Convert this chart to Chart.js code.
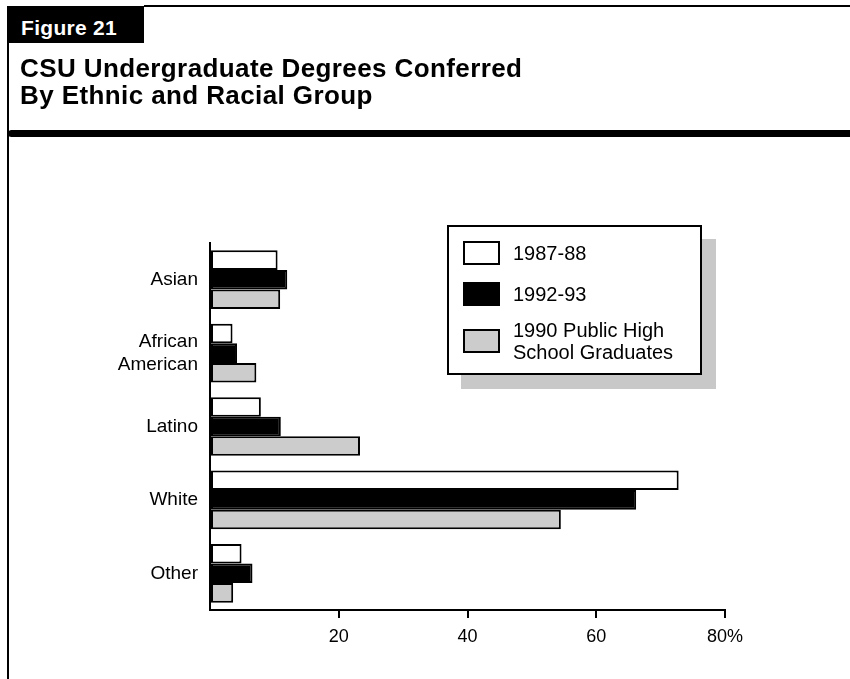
<!DOCTYPE html>
<html>
<head>
<meta charset="utf-8">
<script src="https://cdn.jsdelivr.net/npm/chart.js@4"></script>
<style>
    body { margin: 0; background: #fff; font-family: "Liberation Sans", Arial, sans-serif; }
    #wrap { position: relative; width: 850px; height: 679px; overflow: hidden; }
    #myChart { position: absolute; left: 0; top: 0; }
    .leftline { position: absolute; left: 7px; top: 6px; width: 2px; height: 673px; background: #000; }
    .topline { position: absolute; left: 144px; top: 5px; width: 706px; height: 2px; background: #000; }
    .figbox { position: absolute; left: 7px; top: 6px; width: 137px; height: 37px; background: #000; }
    .figtext { position: absolute; left: 21px; top: 16px; color: #fff; font-weight: bold; font-size: 21px; line-height: normal; letter-spacing: 0.3px; }
    .title { position: absolute; left: 20px; top: 55px; font-weight: bold; font-size: 26px; line-height: 27px; color: #000; letter-spacing: 0.4px; }
    .rule { position: absolute; left: 8px; top: 130px; width: 842px; height: 7px; background: #000; border-radius: 4px 0 0 4px; }
    #legend { position: absolute; left: 447px; top: 225px; width: 251px; height: 146px; border: 2px solid #000; background: #fff; box-shadow: 14px 14px 0 #c8c8c8; }
    .item { position: absolute; left: 14px; display: flex; align-items: center; }
    .sw { width: 33px; height: 20px; border: 2px solid #000; margin-right: 13px; flex: none; }
    .lab { font-size: 20px; line-height: 22px; color: #000; }
</style>
</head>
<body>
<div id="wrap">
    <canvas id="myChart" width="850" height="679"></canvas>
    <div class="leftline"></div>
    <div class="topline"></div>
    <div class="figbox"></div>
    <div class="figtext">Figure 21</div>
    <div class="title">CSU Undergraduate Degrees Conferred<br>By Ethnic and Racial Group</div>
    <div class="rule"></div>
    <div id="legend"></div>
</div>
<script>
// groups down the side
let groups = ['Asian', ['African', 'American'], 'Latino', 'White', 'Other'];
// percent of degrees / graduates
let deg8788 = [10.5, 3.5, 7.9, 72.8, 4.9];
let deg9293 = [12.0, 4.2, 11.0, 66.2, 6.6];
let hsGrads90 = [10.9, 7.2, 23.3, 54.5, 3.6];
let seriesNames = [['1987-88'], ['1992-93'], ['1990 Public High', 'School Graduates']];
let xTicks = [20, 40, 60, 80];

let fills = ['#ffffff', '#000000', '#cccccc'];
let seriesData = [deg8788, deg9293, hsGrads90];

// legend box, built from the series names
let rowTops = [14, 54, 91];
let rowHeights = [24, 25, 46];
let lg = document.getElementById('legend');
seriesNames.forEach((name, i) => {
    let row = document.createElement('div');
    row.className = 'item';
    row.style.top = rowTops[i] + 'px';
    row.style.height = rowHeights[i] + 'px';
    let sw = document.createElement('div');
    sw.className = 'sw';
    sw.style.background = fills[i];
    let lab = document.createElement('div');
    lab.className = 'lab';
    lab.innerHTML = name.join('<br>');
    row.appendChild(sw);
    row.appendChild(lab);
    lg.appendChild(row);
});

Chart.defaults.font.family = '"Liberation Sans", Arial, sans-serif';
Chart.defaults.font.size = 18;
Chart.defaults.color = '#000';

new Chart("myChart", {
    type: "bar",
    data: {
        labels: groups,
        datasets: seriesData.map((d, i) => ({
            label: seriesNames[i].join(' '),
            data: d,
            backgroundColor: fills[i],
            borderColor: '#000',
            borderWidth: 2,
            borderSkipped: false,
            barPercentage: 1,
            categoryPercentage: 0.8
        }))
    },
    options: {
        indexAxis: 'y',
        responsive: false,
        animation: false,
        layout: { padding: { top: 243, right: 125, left: 0, bottom: 0 } },
        plugins: {
            legend: { display: false },
            tooltip: { enabled: false }
        },
        scales: {
            x: {
                min: 0,
                max: 80,
                afterBuildTicks: s => { s.ticks = [0].concat(xTicks).map(v => ({ value: v })); },
                afterFit: s => { s.height = 69; },
                border: { display: true, color: '#000', width: 2 },
                grid: {
                    drawOnChartArea: false,
                    drawTicks: true,
                    tickLength: 8,
                    lineWidth: 2,
                    color: c => (c.tick && c.tick.value === 0) ? 'rgba(0,0,0,0)' : '#000'
                },
                ticks: {
                    padding: 8,
                    maxRotation: 0,
                    font: { size: 18 },
                    callback: v => v === 0 ? '' : (v === 80 ? '80%' : v)
                }
            },
            y: {
                afterFit: s => { s.width = 210; },
                border: { display: true, color: '#000', width: 2 },
                grid: { drawOnChartArea: false, drawTicks: false },
                ticks: {
                    padding: 12,
                    font: { size: 19, lineHeight: 1.2 }
                }
            }
        }
    }
});
</script>
</body>
</html>
